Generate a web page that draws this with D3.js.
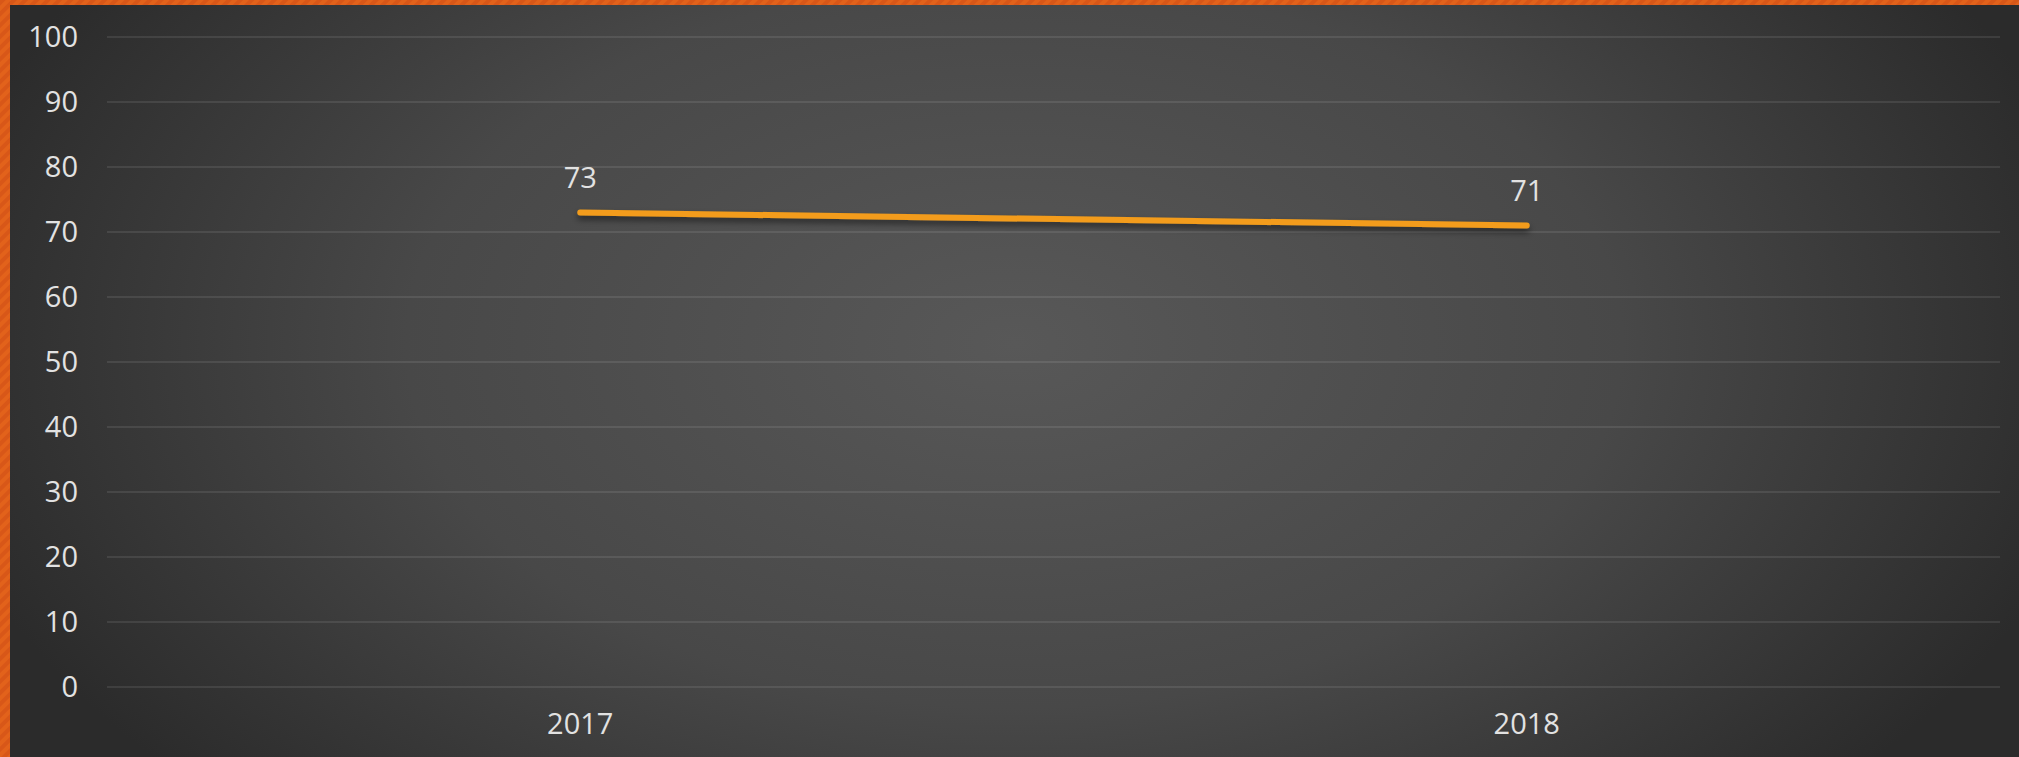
<!DOCTYPE html>
<html>
<head>
<meta charset="utf-8">
<script src="https://cdn.jsdelivr.net/npm/d3@7"></script>
<style>
  html, body { margin: 0; padding: 0; background: #2a2a2a; overflow: hidden; }
  svg { display: block; }
  text { font-family: "Open Sans", "DejaVu Sans", sans-serif; fill: #e2e2e2; }
</style>
</head>
<body>
<div id="chart"></div>
<script>
// data
const years = ["2017", "2018"];
const scores = [73, 71];
const yTicks = [0, 10, 20, 30, 40, 50, 60, 70, 80, 90, 100];

const W = 2019, H = 757;
const m = {t: 37, r: 19, b: 70, l: 107};

const svg = d3.select("#chart").append("svg")
    .attr("width", W).attr("height", H);

const defs = svg.append("defs");

// background radial glow
const rg = defs.append("radialGradient").attr("id", "bg")
    .attr("cx", "50%").attr("cy", "45%").attr("r", "55%")
    .attr("gradientTransform", "translate(0.5,0.45) scale(1,1.6) translate(-0.5,-0.45)");
rg.append("stop").attr("offset", "0%").attr("stop-color", "#585858");
rg.append("stop").attr("offset", "55%").attr("stop-color", "#484848");
rg.append("stop").attr("offset", "100%").attr("stop-color", "#2b2b2b");

// striped orange for the frame
const pat = defs.append("pattern").attr("id", "stripe")
    .attr("width", 8).attr("height", 8)
    .attr("patternUnits", "userSpaceOnUse")
    .attr("patternTransform", "rotate(45)");
pat.append("rect").attr("width", 8).attr("height", 8).attr("fill", "#e2621b");
pat.append("rect").attr("width", 4).attr("height", 8).attr("fill", "#d85718");

// shadow under the line
const f = defs.append("filter").attr("id", "shadow")
    .attr("x", "-5%").attr("y", "-200%").attr("width", "110%").attr("height", "500%");
f.append("feDropShadow").attr("dx", 0).attr("dy", 4).attr("stdDeviation", 3)
    .attr("flood-color", "#000").attr("flood-opacity", 0.5);

// frame + background
svg.append("rect").attr("width", W).attr("height", H).attr("fill", "url(#stripe)");
svg.append("rect").attr("x", 10).attr("y", 5).attr("width", W - 10).attr("height", H - 5)
    .attr("fill", "url(#bg)");

const g = svg.append("g");

const x = d3.scaleBand().domain(years).range([m.l, W - m.r]);
const y = d3.scaleLinear().domain([0, 100]).range([H - m.b, m.t]);

// gridlines
g.selectAll(".grid").data(yTicks).enter().append("line")
    .attr("class", "grid")
    .attr("x1", m.l).attr("x2", W - m.r)
    .attr("y1", d => y(d)).attr("y2", d => y(d))
    .attr("stroke", "#ffffff").attr("stroke-opacity", 0.09).attr("stroke-width", 2);

// y axis labels
const yAxis = g.append("g")
    .attr("transform", "translate(" + (m.l - 29) + ",0)")
    .call(d3.axisLeft(y).tickValues(yTicks).tickSize(0).tickPadding(0));
yAxis.select(".domain").remove();
yAxis.selectAll("text").attr("font-size", 29).attr("fill", "#e2e2e2")
    .attr("font-family", "'Open Sans', 'DejaVu Sans', sans-serif");

// x axis labels
const xAxis = g.append("g")
    .attr("transform", "translate(0," + (H - m.b) + ")")
    .call(d3.axisBottom(x).tickSize(0).tickPadding(26));
xAxis.select(".domain").remove();
xAxis.selectAll("text").attr("font-size", 29).attr("fill", "#e2e2e2")
    .attr("font-family", "'Open Sans', 'DejaVu Sans', sans-serif");

const pts = years.map((d, i) => [d, scores[i]]);
const cx = d => x(d) + x.bandwidth() / 2;

// the line
g.append("path").datum(pts)
    .attr("d", d3.line().x(d => cx(d[0])).y(d => y(d[1])))
    .attr("fill", "none")
    .attr("stroke", "#f39c1a")
    .attr("stroke-width", 6)
    .attr("stroke-linecap", "round")
    .attr("filter", "url(#shadow)");

// value labels
g.selectAll(".lbl").data(pts).enter().append("text")
    .attr("class", "lbl")
    .attr("x", d => cx(d[0]))
    .attr("y", d => y(d[1]) - 25)
    .attr("text-anchor", "middle")
    .attr("font-size", 29)
    .text(d => d[1]);
</script>
</body>
</html>
